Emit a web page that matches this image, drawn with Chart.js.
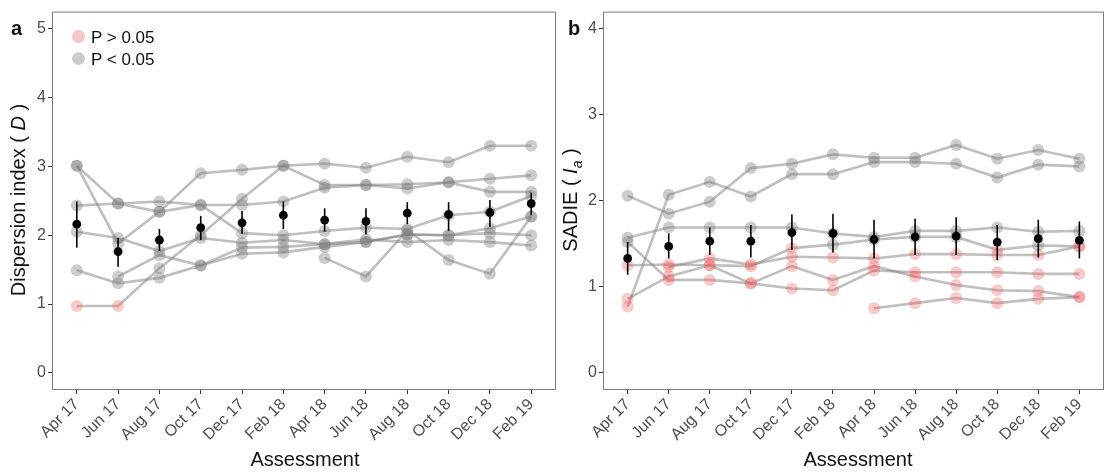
<!DOCTYPE html>
<html>
<head>
<meta charset="utf-8">
<script src="https://cdn.jsdelivr.net/npm/chart.js@4.4.1/dist/chart.umd.min.js"></script>
<style>
  body { margin: 0; background: #fff; font-family: "Liberation Sans", Arial, sans-serif; }
  #page { position: relative; width: 1110px; height: 472px; overflow: hidden; }
  canvas { position: absolute; top: 0; }
  #ca { left: 0; }
  #cb { left: 562px; }
  .txt { position: absolute; white-space: nowrap; color: #111; }
  .ytitle { font-size: 20px; line-height: 20px; transform: translate(-50%, -50%) rotate(-90deg); }
  .xtitle { font-size: 20px; line-height: 20px; transform: translateX(-50%); top: 449px; }
  .tag { font-size: 20px; line-height: 20px; font-weight: bold; top: 18px; }
  .key { position: absolute; width: 13px; height: 13px; border-radius: 50%; }
  .keytxt { font-size: 17px; line-height: 17px; }
</style>
</head>
<body>
<div id="page">
  <canvas id="ca" width="562" height="472"></canvas>
  <canvas id="cb" width="548" height="472"></canvas>

  <div class="txt tag" style="left:11px">a</div>
  <div class="txt tag" style="left:568px">b</div>
  <div class="txt ytitle" style="left:18px; top:200px">Dispersion index ( <i>D</i> )</div>
  <div class="txt ytitle" style="left:573px; top:200px">SADIE ( <i>I</i><sub style="font-size:14px"><i>a</i></sub> )</div>
  <div class="txt xtitle" style="left:305px">Assessment</div>
  <div class="txt xtitle" style="left:858px">Assessment</div>

  <div class="key" style="left:72px; top:30px; background:rgba(240,90,90,0.35)"></div>
  <div class="txt keytxt" style="left:91px; top:29px">P &gt; 0.05</div>
  <div class="key" style="left:72px; top:52px; background:rgba(128,128,128,0.4)"></div>
  <div class="txt keytxt" style="left:91px; top:51px">P &lt; 0.05</div>
</div>

<script>
const months = ['Apr 17', 'Jun 17', 'Aug 17', 'Oct 17', 'Dec 17', 'Feb 18',
                'Apr 18', 'Jun 18', 'Aug 18', 'Oct 18', 'Dec 18', 'Feb 19'];

// (a) dispersion index D, one line per site; *Ns = indices with P > 0.05
const dispS1 = [0.97, 0.97, 1.52, 2.00, 2.53, 3.01, 2.73, 2.73, 2.74, 2.77, 2.82, 2.87];
const dispS1Ns = [0, 1];
const dispS2 = [3.01, 1.88, 2.34, 2.90, 2.95, 3.01, 3.04, 2.98, 3.14, 3.06, 3.30, 3.30];
const dispS3 = [3.01, 2.46, 2.34, 2.44, 2.03, 2.00, 2.06, 2.11, 2.09, 2.29, 2.34, 2.57];
const dispS4 = [2.43, 2.46, 2.49, 2.44, 2.44, 2.49, 2.69, 2.73, 2.68, 2.77, 2.63, 2.63];
const dispS5 = [2.05, 1.96, 1.77, 1.96, 1.89, 1.93, 1.87, 1.90, 2.01, 2.00, 2.10, 2.27];
const dispS6 = [1.49, 1.30, 1.38, 1.56, 1.82, 1.83, 1.87, 1.94, 1.90, 1.93, 1.90, 1.85];
const dispS7 = [null, 1.40, 1.71, 1.56, 1.73, 1.75, 1.83, 1.90, 2.01, 2.00, 2.03, 2.00];
const dispS8 = [null, null, null, null, null, null, 1.67, 1.40, 2.07, 1.64, 1.44, 2.27];

const dispMean = [2.16, 1.76, 1.93, 2.11, 2.18, 2.29, 2.22, 2.20, 2.32, 2.30, 2.33, 2.46];
const dispLow  = [1.82, 1.54, 1.77, 1.93, 2.02, 2.09, 2.05, 2.01, 2.16, 2.06, 2.12, 2.29];
const dispHigh = [2.49, 1.96, 2.09, 2.28, 2.35, 2.49, 2.39, 2.39, 2.48, 2.48, 2.51, 2.62];

// (b) SADIE Ia
const sadieS1 = [2.06, 1.85, 1.99, 2.38, 2.43, 2.54, 2.50, 2.50, 2.65, 2.49, 2.59, 2.49];
const sadieS2 = [0.77, 2.07, 2.22, 2.05, 2.31, 2.31, 2.45, 2.45, 2.43, 2.27, 2.42, 2.40];
const sadieS2Ns = [0];
const sadieS3 = [1.57, 1.69, 1.69, 1.69, 1.69, 1.62, 1.58, 1.65, 1.65, 1.69, 1.64, 1.65];
const sadieS4 = [1.25, 1.26, 1.25, 1.24, 1.45, 1.49, 1.55, 1.58, 1.58, 1.43, 1.48, 1.47];
const sadieS4Ns = [0, 1, 2, 3, 4, 9, 11];
const sadieS5 = [null, 1.23, 1.33, 1.26, 1.35, 1.34, 1.33, 1.38, 1.38, 1.37, 1.37, 1.47];
const sadieS5Ns = [1, 2, 3, 4, 5, 6, 7, 8, 9, 10, 11];
const sadieS6 = [0.86, 1.12, 1.25, 1.04, 1.24, 1.08, 1.24, 1.12, 1.02, 0.96, 0.95, 0.88];
const sadieS6Ns = [0, 1, 2, 3, 4, 5, 6, 7, 8, 9, 10, 11];
const sadieS7 = [1.52, 1.08, 1.08, 1.04, 0.98, 0.96, 1.19, 1.17, 1.17, 1.17, 1.15, 1.15];
const sadieS7Ns = [1, 2, 3, 4, 5, 6, 7, 8, 9, 10, 11];
const sadieS8 = [null, null, null, null, null, null, 0.75, 0.81, 0.87, 0.81, 0.86, 0.88];
const sadieS8Ns = [6, 7, 8, 9, 10, 11];

const sadieMean = [1.33, 1.47, 1.53, 1.53, 1.63, 1.62, 1.55, 1.58, 1.59, 1.52, 1.56, 1.54];
const sadieLow  = [1.14, 1.33, 1.37, 1.34, 1.43, 1.40, 1.33, 1.37, 1.37, 1.31, 1.34, 1.33];
const sadieHigh = [1.52, 1.62, 1.69, 1.72, 1.84, 1.85, 1.78, 1.79, 1.81, 1.72, 1.78, 1.76];

const GREY = 'rgba(128,128,128,0.4)';
const PINK = 'rgba(240,90,90,0.33)';
const LINE = 'rgba(128,128,128,0.5)';
const TICK_TXT = '#4d4d4d';

const toPts = vals => vals.map((v, i) => ({ x: i, y: v }));

// error bars for the mean points, drawn through the chart's own scales
const errorBars = {
    id: 'errorBars',
    afterDatasetsDraw(chart, args, opts) {
        const { ctx, scales: { x, y } } = chart;
        ctx.save();
        ctx.strokeStyle = '#000';
        ctx.lineWidth = 1.6;
        opts.low.forEach((lo, i) => {
            const px = x.getPixelForValue(i);
            ctx.beginPath();
            ctx.moveTo(px, y.getPixelForValue(lo));
            ctx.lineTo(px, y.getPixelForValue(opts.high[i]));
            ctx.stroke();
        });
        ctx.restore();
    },
};

// grey panel frame
const frame = {
    id: 'frame',
    afterDraw(chart) {
        const { ctx, chartArea: a } = chart;
        ctx.save();
        ctx.strokeStyle = '#7a7a7a';
        ctx.lineWidth = 1;
        ctx.strokeRect(a.left + 0.5, a.top + 0.5, a.right - a.left - 1, a.bottom - a.top - 1);
        ctx.restore();
    },
};

function makePanel(canvasId, series, nsLists, mean, low, high, yMax, yWidth, padRight) {
    const datasets = [];
    series.forEach(vals => {
        datasets.push({
            data: toPts(vals),
            borderColor: LINE,
            borderWidth: 2.6,
            pointRadius: 0,
            spanGaps: false,
            order: 3,
        });
    });
    series.forEach((vals, k) => {
        const ns = nsLists[k] || [];
        datasets.push({
            data: toPts(vals),
            showLine: false,
            pointRadius: 6,
            pointBorderWidth: 0,
            pointBackgroundColor: vals.map((v, i) => ns.includes(i) ? PINK : GREY),
            order: 2,
        });
    });
    datasets.push({
        data: toPts(mean),
        showLine: false,
        pointRadius: 4.4,
        pointBorderWidth: 0,
        pointBackgroundColor: '#000',
        order: 1,
    });

    const yTicks = [];
    for (let v = 0; v <= yMax; v++) yTicks.push({ value: v });

    new Chart(document.getElementById(canvasId), {
        type: 'line',
        data: { datasets },
        options: {
            responsive: false,
            animation: false,
            layout: { padding: { top: 10, right: padRight, bottom: 0, left: 0 } },
            plugins: {
                legend: { display: false },
                tooltip: { enabled: false },
                errorBars: { low, high },
            },
            scales: {
                x: {
                    type: 'linear',
                    min: -0.6,
                    max: months.length - 0.4,
                    afterBuildTicks: s => { s.ticks = months.map((m, i) => ({ value: i })); },
                    afterFit: s => { s.height = 82; },
                    border: { display: false },
                    grid: { drawOnChartArea: false, drawTicks: true, tickLength: 4, color: '#333' },
                    ticks: {
                        autoSkip: false,
                        minRotation: 45,
                        maxRotation: 45,
                        padding: 1,
                        color: TICK_TXT,
                        font: { family: 'Liberation Sans', size: 16 },
                        callback: v => months[v],
                    },
                },
                y: {
                    min: -0.05 * yMax,
                    max: yMax * 1.05,
                    afterBuildTicks: s => { s.ticks = yTicks.slice(); },
                    afterFit: s => { s.width = yWidth; },
                    border: { display: false },
                    grid: { drawOnChartArea: false, drawTicks: true, tickLength: 4, color: '#333' },
                    ticks: {
                        padding: 2,
                        color: TICK_TXT,
                        font: { family: 'Liberation Sans', size: 16 },
                        callback: v => String(v),
                    },
                },
            },
        },
        plugins: [errorBars, frame],
    });
}

makePanel('ca',
    [dispS1, dispS2, dispS3, dispS4, dispS5, dispS6, dispS7, dispS8],
    [dispS1Ns],
    dispMean, dispLow, dispHigh, 5, 52, 4);

makePanel('cb',
    [sadieS1, sadieS2, sadieS3, sadieS4, sadieS5, sadieS6, sadieS7, sadieS8],
    [[], sadieS2Ns, [], sadieS4Ns, sadieS5Ns, sadieS6Ns, sadieS7Ns, sadieS8Ns],
    sadieMean, sadieLow, sadieHigh, 4, 41, 1);
</script>
</body>
</html>
